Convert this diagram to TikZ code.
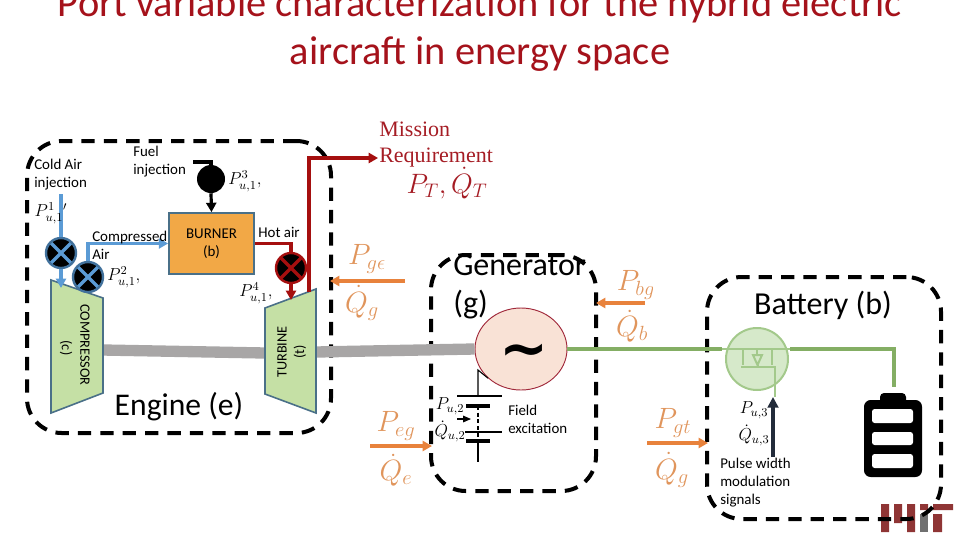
\RequirePackage{fix-cm}
\documentclass[tikz,border=0pt]{standalone}
\usepackage{amsmath}
\usepackage{fontspec}
\setmainfont{Carlito}
\newfontfamily\misfont{Liberation Serif}
\newfontfamily\tildefont{DejaVu Sans}
\usetikzlibrary{arrows.meta,calc,shapes.geometric}
\definecolor{titlered}{HTML}{A5121B}
\definecolor{missred}{HTML}{A51C24}
\definecolor{hotred}{HTML}{A50F0F}
\definecolor{airblue}{HTML}{5B9BD5}
\definecolor{valveblue}{HTML}{41719C}
\definecolor{stroke}{HTML}{4A7088}
\definecolor{turbgreen}{HTML}{C5E0A5}
\definecolor{burnorange}{HTML}{F2A846}
\definecolor{shaftgray}{HTML}{A8A6A6}
\definecolor{orangearrow}{HTML}{E8823C}
\definecolor{orangetext}{HTML}{E0955C}
\definecolor{elecgreen}{HTML}{84AE64}
\definecolor{fetfill}{HTML}{D6E9CA}
\definecolor{fetline}{HTML}{A3C98B}
\definecolor{navy}{HTML}{222B3A}
\definecolor{genfill}{HTML}{F9E2D6}
\definecolor{genline}{HTML}{A0283A}
\definecolor{mitred}{HTML}{8F3535}
\definecolor{mitgray}{HTML}{707070}
\tikzset{
  px/.style={x=0.75pt,y=-0.75pt},
  titletext/.style={font=\fontsize{30.3}{30}\selectfont,text=titlered,inner sep=0pt},
  lbl/.style={font=\fontsize{11.2}{13.5}\selectfont,inner sep=0pt,align=left,text=black},
  rotlbl/.style={font=\fontsize{10.7}{13.5}\selectfont,inner sep=0pt,align=left,text=black},
  biglbl/.style={font=\fontsize{23.7}{28.5}\selectfont,inner sep=0pt,align=left,text=black},
  mathlbl/.style={font=\fontsize{13}{15}\selectfont,inner sep=0pt,text=black},
  orangelbl/.style={font=\fontsize{22}{24}\selectfont,inner sep=0pt,text=orangetext},
  groupbox/.style={draw=black,line width=3pt,rounded corners=26pt,dash pattern=on 10pt off 6.8pt},
  machine/.style={draw=stroke,line width=1.2pt,fill=turbgreen},
  blockbox/.style={draw=stroke,line width=1.3pt,fill=burnorange,minimum width=63.75pt,minimum height=45.75pt,inner sep=0pt,align=center,font=\fontsize{11.2}{13.5}\selectfont},
  valve/.style n args={2}{circle,draw=#1,line width=1.8pt,fill=black,minimum size=22.5pt,inner sep=0pt,
    path picture={\draw[#2,line width=2.6pt] (path picture bounding box.north west)--(path picture bounding box.south east)
      (path picture bounding box.north east)--(path picture bounding box.south west);}},
  airline/.style={draw=airblue,line width=2.6pt},
  hotline/.style={draw=hotred,line width=2.6pt},
  fuelline/.style={draw=black,line width=2.4pt},
  orangeline/.style={draw=orangearrow,line width=2.4pt},
  elecline/.style={draw=elecgreen,line width=2.6pt},
  fetwire/.style={draw=fetline,line width=1.5pt},
  shaft/.style={draw=shaftgray,line width=8.5pt},
  thinwire/.style={draw=black,line width=0.8pt},
  platethick/.style={draw=black,line width=2.4pt},
  tip/.style={-{Triangle[length=7pt,width=7.5pt]}},
  cell/.style={fill=white,rounded corners=2pt},
}
\begin{document}
\begin{tikzpicture}[px]
\useasboundingbox (0,0) rectangle (960,540);
\clip (0,0) rectangle (960,540);
% title
\node[titletext] (title1) at (480,6) {Port variable characterization for the hybrid electric};
\node[titletext] (title2) at (480,54) {aircraft in energy space};
% MIT logo
\fill[mitred] (881,504) rectangle (889,532) (894,504) rectangle (902,523) (907,504) rectangle (915,532)
  (920,504) rectangle (928,510) (933,514) rectangle (942,532) (933,504) rectangle (953,510);
\fill[mitgray] (920,514) rectangle (928,532);
% group boxes
\node[groupbox,minimum width=228pt,minimum height=219pt,inner sep=0pt] (enginebox) at (179,287) {};
\node[groupbox,minimum width=123.75pt,minimum height=177pt,inner sep=0pt] (genbox) at (513.5,373) {};
\node[groupbox,minimum width=175.5pt,minimum height=181.5pt,inner sep=0pt] (batbox) at (824,398) {};
% shaft
\coordinate (shaftL) at (103,350);
\coordinate (shaftM) at (265,353);
\coordinate (shaftN) at (316,352);
% generator
\node[ellipse,draw=genline,line width=0.7pt,fill=genfill,minimum width=69pt,minimum height=61.5pt,inner sep=0pt] (gen) at (521,349) {};
\draw[shaft] (shaftL) -- (shaftM);
\draw[shaft] (shaftN) -- (gen.west);
\node[inner sep=0pt,font=\fontsize{44}{44}\tildefont\bfseries\selectfont] (sine) at (524,356) {\char"223C};
% compressor & turbine
\draw[machine] (51,280) coordinate (cTL) -- (103,298) coordinate (cTR) -- (103,393) -- (51,413) -- cycle;
\draw[machine] (265,308) coordinate (tTL) -- (316,289) coordinate (tTR) -- (316,413) -- (265,394) -- cycle;
\node[rotlbl,rotate=-90] (complbl) at (85,345) {COMPRESSOR};
\node[rotlbl,rotate=-90] (compc) at (66,348) {(c)};
\node[rotlbl,rotate=90] (turblbl) at (282,352) {TURBINE};
\node[rotlbl,rotate=90] (turbt) at (300,352) {(t)};
% burner and valves
\node[blockbox] (burner) at (211.5,243.5) {BURNER\\(b)};
\node[valve={valveblue}{airblue}] (v1) at (61,253) {};
\node[valve={valveblue}{airblue}] (v2) at (88,277) {};
\node[valve={hotred}{hotred}] (v4) at (291,268) {};
\node[circle,fill=black,minimum size=21pt,inner sep=0pt] (fuelpump) at (211,179) {};
% named free ends
\coordinate (airin) at (61,194);
\coordinate (cTop) at (61,288);
\coordinate (tTop) at (291,300);
\coordinate (tOut) at (309,292);
\coordinate (hook) at (193,162);
% air connectors
\draw[airline] (airin) -- (v1.north);
\draw[airline,tip] (v1.south) -- (cTop);
\draw[airline,tip] (v2.north) |- (burner.west);
% hot connectors
\draw[hotline] (burner.east) -| (v4.north);
\draw[hotline,tip] (v4.south) -- (tTop);
\node[inner sep=0pt] (misanchor) at (379,158) {};
\draw[hotline,tip] (tOut) |- (misanchor.west);
% fuel
\draw[fuelline] (hook) -| (fuelpump.north);
\draw[fuelline,tip] (fuelpump.south) -- (burner.north);
% labels engine
\node[lbl,anchor=west] (coldlbl) at (34,175) {Cold Air\\injection};
\node[lbl,anchor=west] (fuellbl) at (133,162) {Fuel\\injection};
\node[lbl,anchor=west] (complbl2) at (92,245) {Compressed\\Air};
\node[lbl,anchor=center] (hotlbl) at (279,232) {Hot air};
\node[biglbl,anchor=center] (enginelbl) at (179,407) {Engine (e)};
\node[mathlbl] (p1) at (51,213) {$P^{1}_{u,1}{}'$};
\node[mathlbl,anchor=west] (p2) at (107,277) {$P^{2}_{u,1},$};
\node[mathlbl,anchor=west] (p3) at (228,181) {$P^{3}_{u,1},$};
\node[mathlbl,anchor=west] (p4) at (239,293) {$P^{4}_{u,1},$};
% mission
\node[anchor=west,inner sep=0pt,align=left,text=missred,font=\fontsize{16.5}{19.5}\misfont\selectfont] (mission) at (379,145) {Mission\\Requirement};
\node[inner sep=0pt,text=missred,font=\fontsize{21}{24}\selectfont] (pt) at (447,183) {$P_{T},\dot{Q}_{T}$};
% orange ports
\begin{scope}
\clip (340,230) rectangle (387,320);
\node[orangelbl] (pge) at (367,259) {$P_{g\epsilon}$};
\end{scope}
\node[orangelbl] (qge) at (362,303) {$\dot{Q}_{g}$};
\coordinate (a1s) at (405,281);
\coordinate (a1e) at (330,281);
\draw[orangeline,tip] (a1s) -- (a1e);
\begin{scope}
\clip (610,260) rectangle (652,350);
\node[orangelbl] (pbg) at (636,285) {$P_{bg}$};
\node[orangelbl] (qbg) at (632,326) {$\dot{Q}_{b}$};
\end{scope}
\coordinate (a2s) at (645,303);
\coordinate (a2e) at (596,303);
\draw[orangeline,tip] (a2s) -- (a2e);
\begin{scope}
\clip (370,400) rectangle (414,490);
\node[orangelbl] (peg) at (396,426) {$P_{eg}$};
\node[orangelbl] (qeg) at (396,470) {$\dot{Q}_{e}$};
\end{scope}
\coordinate (a3s) at (370,446);
\coordinate (a3e) at (432,446);
\draw[orangeline,tip] (a3s) -- (a3e);
\node[orangelbl] (pgt) at (673,423) {$P_{gt}$};
\node[orangelbl] (qgt) at (672,470) {$\dot{Q}_{g}$};
\coordinate (a4s) at (647,443);
\coordinate (a4e) at (708,443);
\draw[orangeline,tip] (a4s) -- (a4e);
% generator box text
\node[font=\fontsize{24}{28.5}\selectfont,inner sep=0pt,align=left,anchor=west] (genlbl) at (453,287) {Generator\\(g)};
% field excitation
\coordinate (f0) at (478,370);
\coordinate (f1) at (478,396);
\coordinate (f2) at (478,406);
\coordinate (f3) at (478,441);
\coordinate (f4) at (478,462);
\draw[thinwire] (gen.south west) -- (f0) -- (f1);
\draw[thinwire] (457,396) -- (502,396);
\draw[platethick] (466,406) -- (490,406);
\draw[thinwire,densely dashed] (f2) -- (f3);
\draw[thinwire] (465,432) -- (502,432);
\draw[platethick] (466,441) -- (490,441);
\draw[thinwire] (f3) -- (f4);
\coordinate (fa) at (457,419);
\coordinate (fb) at (471,419);
\draw[thinwire,-{Triangle[length=6pt,width=5pt]}] (fa) -- (fb);
\node[mathlbl] (pu2) at (450,406) {$P_{u,2}$};
\node[mathlbl] (qu2) at (450,431) {$\dot{Q}_{u,2}$};
\node[lbl,anchor=west] (fieldlbl) at (508,419) {Field\\excitation};
% battery part
\node[circle,draw=fetline,line width=1.5pt,fill=fetfill,minimum size=46.5pt,inner sep=0pt] (fet) at (757,359) {};
\coordinate (fetL) at (722,349);
\coordinate (fetR) at (790,349);
\coordinate (batT) at (894,387);
\draw[elecline] (gen.east) ++(0,0) -- (fetL);
\draw[elecline] (fetR) -| (batT);
\draw[fetwire] (fetL) -- (fetR);
\draw[fetwire] (743,349) -- (743,365);
\draw[fetwire] (772,349) -- (772,365);
\draw[fetwire] (741,367) -- (775,367) -- (775,397);
\draw[fetwire] (757,349) -- (757,355);
\draw[fetwire,fill=fetfill] (753,355) -- (762,355) -- (757.5,365) -- cycle;
\draw[fetwire] (757.5,365) -- (757.5,367);
\coordinate (gateS) at (773,457);
\coordinate (gateE) at (773,397);
\draw[navy,line width=2.6pt,-{Triangle[length=8pt,width=8pt]}] (gateS) -- (gateE);
\node[mathlbl] (pu3) at (754,410) {$P_{u,3}$};
\node[mathlbl] (qu3) at (754,435) {$\dot{Q}_{u,3}$};
\node[lbl,anchor=west] (pwmlbl) at (720,483) {Pulse width\\modulation\\signals};
\node[font=\fontsize{24}{24}\selectfont,inner sep=0pt] (batlbl) at (823,305) {Battery (b)};
% battery icon
\fill[black,rounded corners=3pt] (880,393) rectangle (906,405);
\fill[black,rounded corners=5pt] (864,400) rectangle (922,477);
\fill[cell] (872,409) rectangle (913,423);
\fill[cell] (872,432) rectangle (913,445);
\fill[cell] (872,454) rectangle (913,468);
\end{tikzpicture}
\end{document}
